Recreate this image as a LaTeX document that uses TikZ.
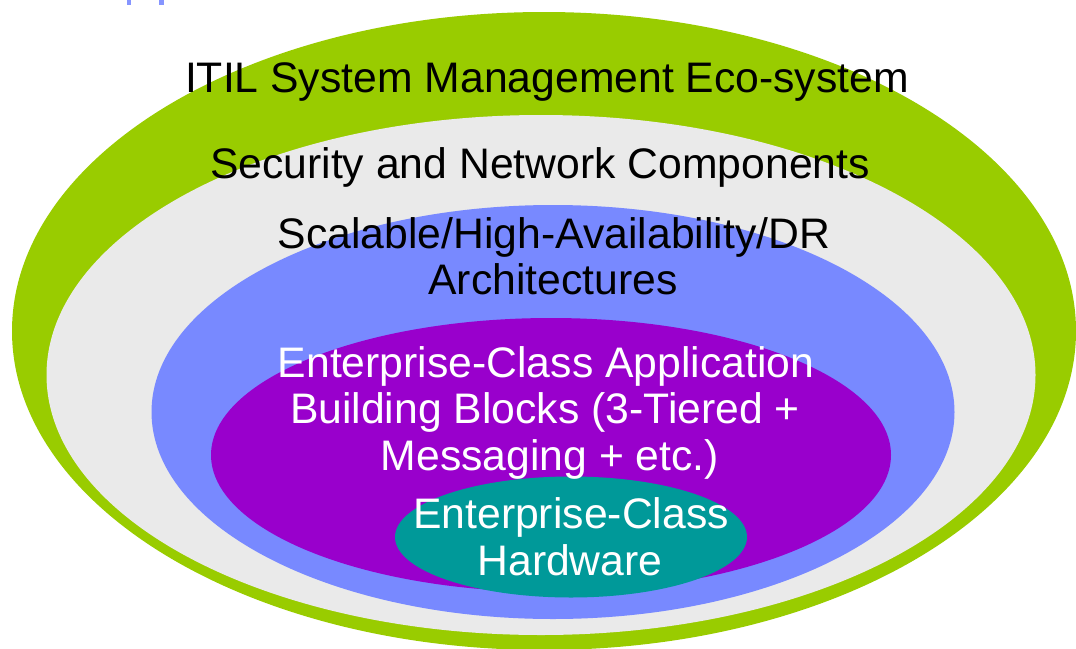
\documentclass[tikz,border=0pt]{standalone}
\usepackage{fontspec}
\setmainfont{Liberation Sans}
\usetikzlibrary{shapes.geometric}
\definecolor{ecogreen}{HTML}{99CC00}
\definecolor{secgray}{HTML}{EAEAEA}
\definecolor{archblue}{HTML}{7889FF}
\definecolor{appviolet}{HTML}{9900CC}
\definecolor{hwteal}{HTML}{009999}
\tikzstyle{layer} = [ellipse, inner sep = 0pt, draw = none]
\tikzstyle{caption} = [anchor = base, inner sep = 0pt, font = \fontsize{42.7}{46}\selectfont]

\begin{document}
\begin{tikzpicture}[x = 1pt, y = -1pt]
  \useasboundingbox (0, 0) rectangle (1076, 648);
  % title fragments cut off at the top
  \fill[archblue!90] (127, 0) rectangle (131, 5);
  \fill[archblue!90] (159, 0) rectangle (164, 5);
  % nested layers
  \node[layer, fill = ecogreen, minimum width = 1064pt, minimum height = 638pt] (eco) at (544, 331) {};
  \node[layer, fill = secgray, minimum width = 989pt, minimum height = 520pt] (sec) at (541, 375) {};
  \node[layer, fill = archblue, minimum width = 803pt, minimum height = 414pt] (arch) at (553, 412) {};
  \node[layer, fill = appviolet, minimum width = 680pt, minimum height = 274pt] (app) at (551, 455) {};
  \node[layer, fill = hwteal, minimum width = 352pt, minimum height = 121pt] (hw) at (571, 537) {};
  % labels
  \node[caption] (ecotxt) at (547, 92) {ITIL System Management Eco-system};
  \node[caption] (sectxt) at (540, 178) {Security and Network Components};
  \node[caption] (archtxt1) at (554, 248) {Scalable/High-Availability/DR};
  \node[caption] (archtxt2) at (553, 294) {Architectures};
  \node[caption, text = white] (apptxt1) at (546, 377) {Enterprise-Class Application};
  \node[caption, text = white] (apptxt2) at (545, 423) {Building Blocks (3-Tiered +};
  \node[caption, text = white] (apptxt3) at (550, 470) {Messaging + etc.)};
  \node[caption, text = white] (hwtxt1) at (571, 528) {Enterprise-Class};
  \node[caption, text = white] (hwtxt2) at (570, 575) {Hardware};
\end{tikzpicture}
\end{document}
